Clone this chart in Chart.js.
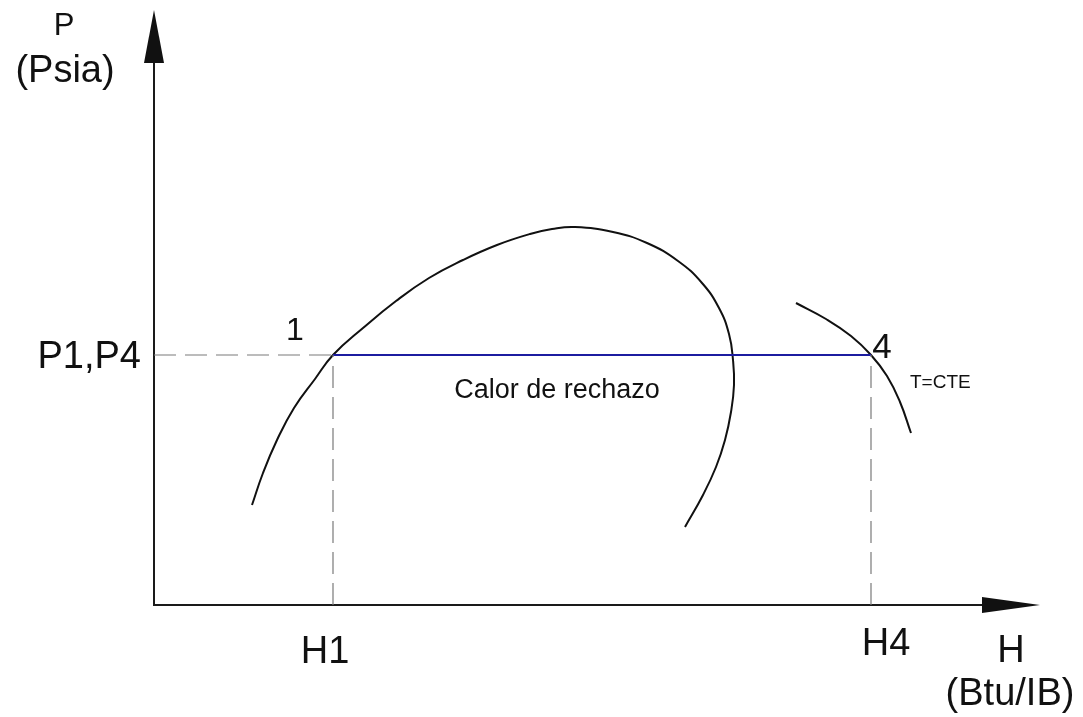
<!DOCTYPE html>
<html>
<head>
<meta charset="utf-8">
<script src="https://cdn.jsdelivr.net/npm/chart.js@4/dist/chart.umd.min.js"></script>
<style>
html,body{margin:0;padding:0;background:#fff;}
#wrap{width:1083px;height:717px;position:relative;}
</style>
</head>
<body>
<div id="wrap"><canvas id="c"></canvas></div>
<script>
// ---- data (schematic units: H along x, P along y) ----
const H_MAX = 886;
const P_MAX = 595;
const H1 = 179;
const H4 = 717;
const P14 = 250;

const domeH = [98,109,123,140,161,179,209,242,275,309,343,376,398,421,459,493,524,548,565,575,579,580,577,571,562,549,531];
const domeP = [100,132,165,197,226,250,277,304,327,345,360,371,376,378,373,362,344,322,297,271,245,220,193,165,138,110,78];

const isoH = [642,672,697,717,733,746,757];
const isoP = [302,286,269,250,229,203,172];

const xTickLabels = ['H1','H4'];
const xTickValues = [H1, H4];
const yTickLabels = ['P1,P4'];
const yTickValues = [P14];
const pointLabels = ['1','4'];
const xAxisTitle = ['H','(Btu/IB)'];
const yAxisTitle = ['P','(Psia)'];
const processLabel = 'Calor de rechazo';
const isoLabel = 'T=CTE';

const zip = (a,b) => a.map((v,i)=>({x:v,y:b[i]}));

const FONT = 'Arial, "Liberation Sans", sans-serif';

const decor = {
  id:'decor',
  beforeDatasetsDraw(chart){
    const {ctx, scales:{x, y}} = chart;
    const x0 = x.getPixelForValue(0), y0 = y.getPixelForValue(0);
    const xe = x.getPixelForValue(H_MAX), ye = y.getPixelForValue(P_MAX);
    ctx.save();
    ctx.strokeStyle = '#1a1a1a';
    ctx.fillStyle = '#111';
    ctx.lineWidth = 2;
    // y axis
    ctx.beginPath(); ctx.moveTo(x0, y0); ctx.lineTo(x0, ye + 50); ctx.stroke();
    ctx.beginPath(); ctx.moveTo(x0, ye); ctx.lineTo(x0 - 10, ye + 53); ctx.lineTo(x0 + 10, ye + 53); ctx.closePath(); ctx.fill();
    // x axis
    ctx.beginPath(); ctx.moveTo(x0 - 1, y0); ctx.lineTo(xe - 55, y0); ctx.stroke();
    ctx.beginPath(); ctx.moveTo(xe, y0); ctx.lineTo(xe - 58, y0 - 8); ctx.lineTo(xe - 58, y0 + 8); ctx.closePath(); ctx.fill();
    ctx.restore();
  },
  afterDatasetsDraw(chart){
    const {ctx, scales:{x, y}} = chart;
    ctx.save();
    ctx.fillStyle = '#111';
    ctx.textBaseline = 'alphabetic';
    ctx.textAlign = 'center';
    // x tick labels
    ctx.font = '38px ' + FONT;
    ctx.fillText(xTickLabels[0], x.getPixelForValue(xTickValues[0]) - 8, 663);
    ctx.fillText(xTickLabels[1], x.getPixelForValue(xTickValues[1]) + 15, 655);
    // y tick label
    ctx.textAlign = 'right';
    ctx.fillText(yTickLabels[0], 141, y.getPixelForValue(yTickValues[0]) + 13);
    // axis titles
    ctx.textAlign = 'center';
    ctx.fillText(xAxisTitle[0], 1011, 662);
    ctx.fillText(xAxisTitle[1], 1010, 705);
    ctx.font = '31px ' + FONT;
    ctx.fillText(yAxisTitle[0], 64, 35);
    ctx.font = '38px ' + FONT;
    ctx.fillText(yAxisTitle[1], 65, 82);
    // point labels
    ctx.font = '32px ' + FONT;
    ctx.fillText(pointLabels[0], x.getPixelForValue(H1) - 38, y.getPixelForValue(P14) - 15);
    ctx.font = '35px ' + FONT;
    ctx.fillText(pointLabels[1], x.getPixelForValue(H4) + 11, y.getPixelForValue(P14) + 3);
    // process label
    ctx.font = '27px ' + FONT;
    ctx.fillText(processLabel, 557, 398);
    // iso label
    ctx.textAlign = 'left';
    ctx.font = '19px ' + FONT;
    ctx.fillText(isoLabel, 910, 388);
    ctx.restore();
  }
};

const dashStyle = {borderColor:'#7a7a7a', borderWidth:1.2, borderDash:[22,9], pointRadius:0, showLine:true, tension:0, fill:false};

new Chart(document.getElementById('c'), {
  type:'scatter',
  data:{
    datasets:[
      Object.assign({label:'guideP', data:[{x:0,y:P14},{x:H1,y:P14}]}, dashStyle),
      Object.assign({label:'guideH1', data:[{x:H1,y:0},{x:H1,y:P14}]}, dashStyle),
      Object.assign({label:'guideH4', data:[{x:H4,y:0},{x:H4,y:P14}]}, dashStyle),
      {label:'Calor de rechazo', data:[{x:H1,y:P14},{x:H4,y:P14}], showLine:true, borderColor:'#1c1ca0', borderWidth:2, pointRadius:0, tension:0},
      {label:'dome', data:zip(domeH, domeP), showLine:true, borderColor:'#111', borderWidth:2, pointRadius:0, tension:0.45},
      {label:'iso', data:zip(isoH, isoP), showLine:true, borderColor:'#111', borderWidth:2, pointRadius:0, tension:0.45}
    ]
  },
  options:{
    responsive:true,
    maintainAspectRatio:false,
    animation:false,
    devicePixelRatio:1,
    layout:{padding:{left:154, right:43, top:10, bottom:112}},
    plugins:{legend:{display:false}, tooltip:{enabled:false}},
    scales:{
      x:{type:'linear', min:0, max:H_MAX, display:false},
      y:{type:'linear', min:0, max:P_MAX, display:false}
    }
  },
  plugins:[decor]
});
</script>
</body>
</html>
